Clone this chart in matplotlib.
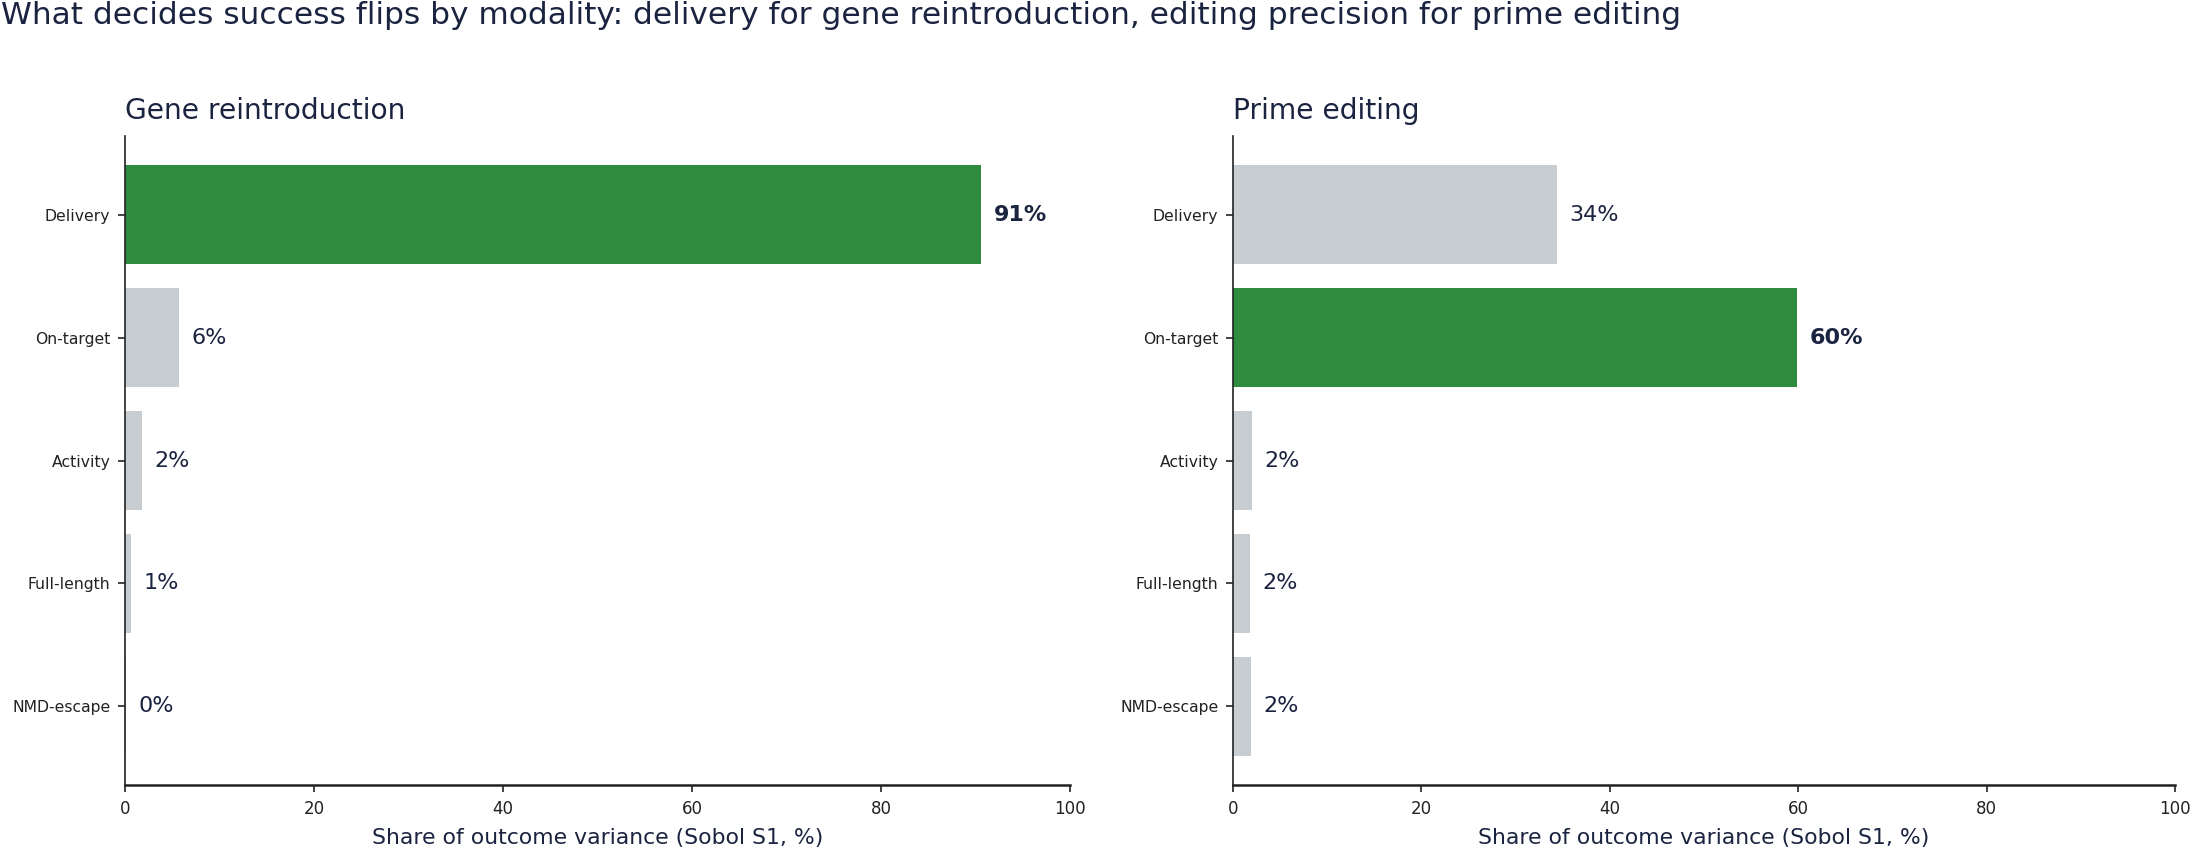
import matplotlib
matplotlib.use("Agg")
import matplotlib.pyplot as plt

# ---- data ----
factors = ["Delivery", "On-target", "Activity", "Full-length", "NMD-escape"]
panel_titles = ["Gene reintroduction", "Prime editing"]
gene_reintro = [90.6, 5.7, 1.8, 0.6, 0.1]
prime_editing = [34.4, 59.9, 2.0, 1.8, 1.9]
xticks = [0, 20, 40, 60, 80, 100]

title = ("What decides success flips by modality: delivery for gene reintroduction, "
         "editing precision for prime editing")
xlabel = "Share of outcome variance (Sobol S1, %)"

GREEN = "#2e8b40"
GRAY = "#c8cdd1"
NAVY = "#1a2340"
DARK = "#222222"

plt.rcParams["font.family"] = ["DejaVu Sans"]

fig = plt.figure(figsize=(2192 / 150, 852 / 150), dpi=150)
axes = [fig.add_axes([0.0570, 0.0786, 0.4311, 0.7618]),
        fig.add_axes([0.5625, 0.0786, 0.4297, 0.7618])]

for ax, vals, ptitle in zip(axes, [gene_reintro, prime_editing], panel_titles):
    top = max(range(len(vals)), key=lambda i: vals[i])
    colors = [GREEN if i == top else GRAY for i in range(len(vals))]
    y = list(range(len(factors)))
    ax.barh(y, vals, height=0.8, color=colors, zorder=1)
    ax.set_yticks(y)
    ax.set_yticklabels(factors, fontsize=7.5, color=DARK)
    ax.invert_yaxis()
    ax.set_xlim(0, 100)
    ax.set_xticks(xticks)
    ax.tick_params(axis="x", labelsize=8, colors=DARK, length=3.5, width=0.8)
    ax.tick_params(axis="y", colors=DARK, length=3.5, width=0.8)
    for i, v in enumerate(vals):
        ax.annotate(f"{v:.0f}%", xy=(v, i), xytext=(6, 0), textcoords="offset points",
                    va="center", ha="left", fontsize=10.7, color=NAVY,
                    fontweight="bold" if i == top else "normal")
    ax.set_xlabel(xlabel, fontsize=10.5, color=NAVY, labelpad=5)
    ax.set_title(ptitle, loc="left", fontsize=13.5, color=NAVY, pad=8)
    ax.spines["top"].set_visible(False)
    ax.spines["right"].set_visible(False)
    ax.spines["left"].set_color(DARK)
    ax.spines["left"].set_linewidth(0.8)
    ax.spines["bottom"].set_color(DARK)
    ax.spines["bottom"].set_linewidth(1.2)

fig.text(0.0005, 1 - 24 / 852, title, fontsize=15, color=NAVY, ha="left", va="baseline")

fig.savefig("out.png", dpi=150, facecolor="white")
